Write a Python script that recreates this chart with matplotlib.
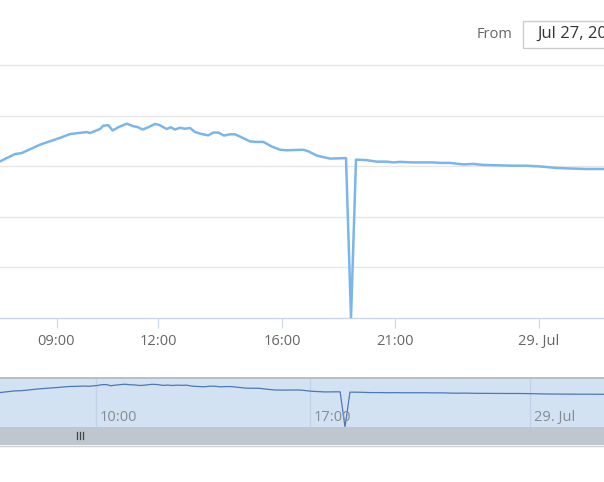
import matplotlib
matplotlib.use("Agg")
import matplotlib.pyplot as plt
from matplotlib.patches import Rectangle
import matplotlib.transforms as mtransforms

plt.rcParams['font.family'] = ['Open Sans', 'DejaVu Sans']

# ordinal positions (evenly spaced points on a highstock ordinal axis) and values
pos = [-10, 0, 15, 21.7, 40, 60, 70, 86.7, 90, 100, 103.3, 108.3, 112.7, 118.3,
       126.7, 133.3, 137.3, 142.7, 148.3, 155, 159.3, 166.7, 170.7, 175, 180,
       185, 190, 195, 201.7, 208.3, 213.3, 218.3, 224, 230, 235, 241.7, 250,
       256.7, 263.3, 271.7, 280, 286.7, 303.3, 308.3, 316.7, 323.3, 330, 338.3,
       346, 351, 356, 366.7, 376.7, 386.7, 393.3, 400, 413.3, 433.3, 440, 450,
       463.3, 473.3, 483.3, 513.3, 526.7, 540, 556.7, 570, 586.7, 603.3, 615]
vals = [61.0, 61.9, 64.8, 65.2, 68.5, 71.2, 72.7, 73.5, 73.1, 74.7, 76.0, 76.2,
        74.1, 75.4, 76.8, 75.8, 75.5, 74.5, 75.4, 76.7, 76.3, 74.7, 75.4, 74.5,
        75.2, 74.8, 75.1, 73.5, 72.7, 72.2, 73.3, 73.3, 72.1, 72.6, 72.6, 71.4,
        69.8, 69.6, 69.6, 67.8, 66.5, 66.3, 66.5, 65.9, 64.2, 63.6, 63.0, 63.1,
        63.2, 0.0, 62.6, 62.4, 61.8, 61.8, 61.5, 61.7, 61.5, 61.5, 61.3, 61.3,
        60.7, 60.9, 60.5, 60.2, 60.2, 59.9, 59.3, 59.1, 58.9, 58.9, 58.7]

main_ticks = [56.5, 158, 282, 395, 539]
main_labels = ['09:00', '12:00', '16:00', '21:00', '29. Jul']
nav_ticks = [97.7, 315.4, 539]
nav_labels = ['10:00', '17:00', '29. Jul']
y_grid = [20, 40, 60, 80, 100]

W, H = 604, 482
fig = plt.figure(figsize=(W / 100, H / 100), dpi=100)
fig.patch.set_facecolor('white')

# main plot
ax = fig.add_axes([0, 1 - 318 / H, 1, (318 - 65) / H])
ax.set_xlim(0, 604)
ax.set_ylim(0, 100)
for g in y_grid:
    ax.axhline(g, color='#e6e6e6', lw=1, clip_on=False, zorder=0)
ax.plot(pos, vals, color='#7cb5ec', lw=1.8, solid_joinstyle='round', zorder=3)
for s in ['top', 'left', 'right']:
    ax.spines[s].set_visible(False)
ax.spines['bottom'].set_color('#ccd6eb')
ax.spines['bottom'].set_linewidth(1)
ax.set_yticks([])
ax.set_xticks(main_ticks)
ax.set_xticklabels(main_labels)
ax.tick_params(axis='x', length=7.5, width=0.8, color='#ccd6eb', pad=4,
               labelsize=10.5, labelcolor='#666666')

# navigator
nav = fig.add_axes([0, 1 - 427 / H, 1, (427 - 378) / H])
nav.set_facecolor('#d3e2f3')
nav.set_xlim(0, 604 / 0.983)
nav.set_ylim(0, 88)
for t in nav_ticks:
    nav.axvline(t, color='#c2d2e6', lw=1, zorder=1)
nav.plot(pos, vals, color='#4a78b8', lw=0.9, zorder=3)
nav.set_xticks([])
nav.set_yticks([])
for s in ['left', 'right', 'bottom']:
    nav.spines[s].set_visible(False)
nav.spines['top'].set_color('#b5b5b8')
nav.spines['top'].set_linewidth(1.2)
trans = mtransforms.blended_transform_factory(nav.transData, nav.transAxes)
for t, lab in zip(nav_ticks, nav_labels):
    txt = nav.text(t, 0.2, lab, transform=trans,
                   ha='left', va='center', fontsize=10.5, color='#858b93')
    txt.set_x(t + 4)

# scrollbar
fig.patches.append(Rectangle((0, 1 - 445 / H), 1, (445 - 427) / H,
                             transform=fig.transFigure, facecolor='#bfc6ce',
                             edgecolor='none', zorder=1))
fig.lines.append(plt.Line2D([0, 1], [1 - 445.5 / H] * 2, transform=fig.transFigure,
                            color='#d0d0d0', lw=1))
for gx in [77, 80, 83]:
    fig.lines.append(plt.Line2D([gx / W] * 2, [1 - 432 / H, 1 - 439 / H],
                                transform=fig.transFigure, color='#444444', lw=0.9))

# range selector input
fig.text(513 / W, 1 - 34 / H, 'From', ha='right', va='center',
         fontsize=10.5, color='#666666')
fig.patches.append(Rectangle((522.5 / W, 1 - 47.5 / H), 100 / W, 26 / H,
                             transform=fig.transFigure, facecolor='white',
                             edgecolor='#cccccc', lw=1, zorder=1))
fig.text(537 / W, 1 - 34 / H, 'Jul 27, 2016', ha='left', va='center',
         fontsize=12, color='#333333')

fig.savefig('out.png', dpi=100)
